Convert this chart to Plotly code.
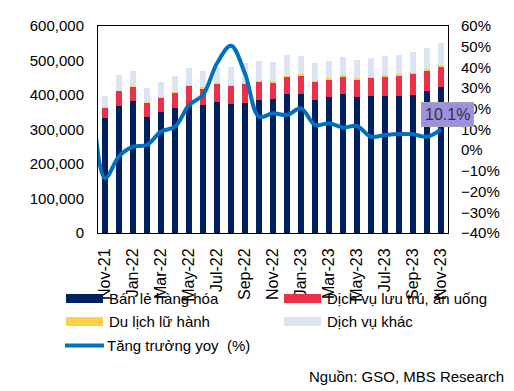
import plotly.graph_objects as go

# ---------------- data ----------------
months = ["Nov-21", "Dec-21", "Jan-22", "Feb-22", "Mar-22", "Apr-22", "May-22", "Jun-22",
          "Jul-22", "Aug-22", "Sep-22", "Oct-22", "Nov-22", "Dec-22", "Jan-23", "Feb-23",
          "Mar-23", "Apr-23", "May-23", "Jun-23", "Jul-23", "Aug-23", "Sep-23", "Oct-23", "Nov-23"]

retail = [334000, 369000, 383000, 337000, 350000, 361000, 370000, 371000, 380000, 375000,
          378000, 385000, 387000, 402000, 403000, 386000, 393000, 402000, 394000, 397000,
          398000, 398000, 401000, 412000, 424000]
food_lodging = [31000, 43000, 41000, 42000, 42000, 46000, 58000, 48000, 52000, 52000,
                55000, 54000, 50000, 51000, 54000, 52000, 53000, 53000, 52000, 53000,
                56000, 59000, 61000, 59000, 59000]
travel = [1000, 1000, 1000, 2000, 2000, 2000, 2000, 3000, 3000, 3000,
          3000, 3000, 3000, 3000, 3000, 3000, 3000, 3000, 3000, 3000,
          3000, 3000, 3000, 3000, 3000]
other_services = [31000, 45000, 45000, 40000, 44000, 46000, 47000, 49000, 47000, 50000,
                  56000, 58000, 57000, 60000, 52000, 51000, 51000, 53000, 53000, 53000,
                  56000, 56000, 59000, 61000, 66000]

# yoy growth (%); the first value is the month before Nov-21 (clipped at the left edge)
yoy_prev_month = 40.0
yoy = [-13.5, -3.0, 1.7, 2.5, 9.0, 11.4, 21.8, 26.7, 42.0, 50.5, 37.0, 16.2, 17.8, 17.0,
       20.2, 12.2, 13.0, 11.0, 11.7, 6.5, 7.3, 7.8, 7.7, 6.5, 10.1]

tick_labels = months[::2]
series_names = ["Bán lẻ hàng hóa", "Dịch vụ lưu trú, ăn uống", "Du lịch lữ hành",
                "Dịch vụ khác", "Tăng trưởng yoy  (%)"]
source_text = "Nguồn: GSO, MBS Research"
last_label = "10.1%"

# ---------------- styling ----------------
C_RETAIL = "#002060"
C_FOOD = "#EC2F4B"
C_TRAVEL = "#FFD149"
C_OTHER = "#DCE3F3"
C_LINE = "#0070C0"
FONT = "Arial, Liberation Sans, sans-serif"

W, H = 514, 391
L, R, T, B = 98, 448, 26, 233  # plot area in pixels

def px(x):
    return (x - L) / (R - L)

def py(y):
    return (B - y) / (B - T)

xs = list(range(len(months)))
fig = go.Figure()
bar_w = 0.4
for vals, name, col in [(retail, series_names[0], C_RETAIL),
                        (food_lodging, series_names[1], C_FOOD),
                        (travel, series_names[2], C_TRAVEL),
                        (other_services, series_names[3], C_OTHER)]:
    fig.add_trace(go.Bar(x=xs, y=vals, name=name, marker=dict(color=col, line=dict(width=0)),
                         width=bar_w, showlegend=False, hoverinfo="skip"))

line_x = [-1] + xs
line_y = [yoy_prev_month] + yoy
fig.add_trace(go.Scatter(x=line_x, y=line_y, yaxis="y2", mode="lines",
                         line=dict(color=C_LINE, width=4, shape="spline", smoothing=1),
                         name=series_names[4], showlegend=False, hoverinfo="skip"))

fig.add_annotation(x=xs[-1], y=yoy[-1], xref="x", yref="y2", text=last_label,
                   showarrow=False, xshift=6, yshift=15,
                   font=dict(family=FONT, size=16, color="#333333"),
                   bgcolor="#9E8FE0", bordercolor="#A6A6A6", borderwidth=1, borderpad=3)

# manual legend
legend_items = [
    (series_names[0], C_RETAIL, 66, 298.5, "box"),
    (series_names[1], C_FOOD, 284, 298.5, "box"),
    (series_names[2], C_TRAVEL, 66, 321.5, "box"),
    (series_names[3], C_OTHER, 284, 321.5, "box"),
    (series_names[4], C_LINE, 64, 345.5, "line"),
]
for name, col, x0, yc, kind in legend_items:
    if kind == "box":
        fig.add_shape(type="rect", xref="paper", yref="paper",
                      x0=px(x0), x1=px(x0 + 37), y0=py(yc - 4.5), y1=py(yc + 4.5),
                      fillcolor=col, line=dict(width=0))
    else:
        fig.add_shape(type="line", xref="paper", yref="paper",
                      x0=px(x0 + 1), x1=px(x0 + 40), y0=py(yc), y1=py(yc),
                      line=dict(color=col, width=4))
    fig.add_annotation(x=px(x0 + 41), y=py(yc), xref="paper", yref="paper",
                       text=name, showarrow=False, xanchor="left", yanchor="middle",
                       font=dict(family=FONT, size=15, color="#000000"))

fig.add_annotation(x=px(506), y=py(376), xref="paper", yref="paper", text=source_text,
                   showarrow=False, xanchor="right", yanchor="middle",
                   font=dict(family=FONT, size=15, color="#000000"))

fig.update_layout(
    width=W, height=H,
    margin=dict(l=L, r=W - R, t=T, b=H - B, pad=0),
    barmode="stack", bargap=0,
    paper_bgcolor="white", plot_bgcolor="white",
    font=dict(family=FONT, size=14, color="#000000"),
    showlegend=False,
    xaxis=dict(range=[-0.5, len(months) - 0.5], tickmode="array",
               tickvals=xs[::2], ticktext=tick_labels, tickangle=-90,
               showgrid=False, zeroline=False, showline=True, linecolor="#000000",
               linewidth=1, mirror=True, ticks="", ticklabelstandoff=8,
               tickfont=dict(size=16)),
    yaxis=dict(range=[0, 600000], dtick=100000, tickformat=",d", showgrid=False,
               zeroline=False, showline=True, linecolor="#000000", linewidth=1,
               mirror=True, ticks="", ticklabelstandoff=10, tickfont=dict(size=15)),
    yaxis2=dict(range=[-40, 60], dtick=10, ticksuffix="%", overlaying="y", side="right",
                showgrid=False, zeroline=False, showline=False, ticks="",
                ticklabelstandoff=12, tickfont=dict(size=15)),
)

fig.write_html("out.html", config={"displayModeBar": False},
               post_script="document.body.style.margin='0';document.body.style.padding='0';")
